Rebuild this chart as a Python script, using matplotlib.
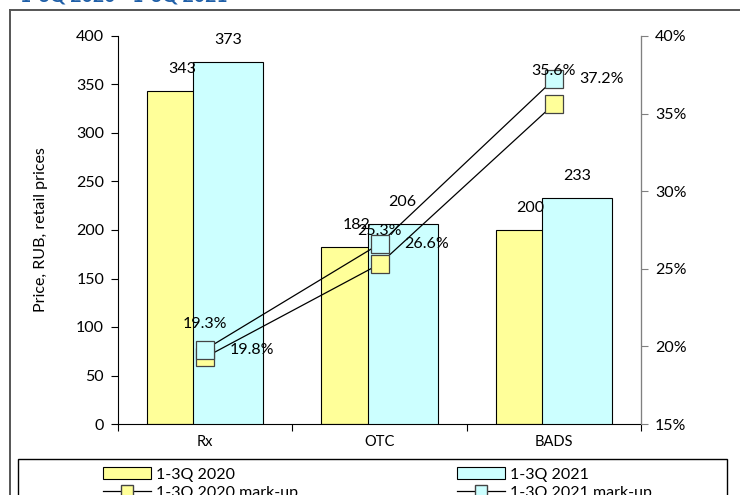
import matplotlib
matplotlib.use("Agg")
import matplotlib.pyplot as plt
import matplotlib.lines as mlines
import matplotlib.patches as mpatches
import numpy as np

plt.rcParams['font.family'] = ['Lato', 'DejaVu Sans']

categories = ["Rx", "OTC", "BADS"]
price_2020 = [343, 182, 200]
price_2021 = [373, 206, 233]
markup_2020 = [19.3, 25.3, 35.6]
markup_2021 = [19.8, 26.6, 37.2]
price_ticks = [0, 50, 100, 150, 200, 250, 300, 350, 400]
markup_ticks = [15, 20, 25, 30, 35, 40]

yellow = '#FFFF99'
cyan = '#CCFFFF'
fs = 11.5

W, H = 740, 495
fig = plt.figure(figsize=(W / 100, H / 100), dpi=100)
ax = fig.add_axes([118 / W, 1 - 424 / H, 523 / W, 388 / H])
ax2 = ax.twinx()

x = np.arange(len(categories))
bw = 0.4
off = 0.133
ax.bar(x - off, price_2020, bw, color=yellow, edgecolor='black', linewidth=0.8, zorder=2)
ax.bar(x + off, price_2021, bw, color=cyan, edgecolor='black', linewidth=0.8, zorder=3)

for xi, v in zip(x - off, price_2020):
    ax.annotate(str(v), (xi, v), xytext=(0, 16), textcoords='offset points',
                ha='center', va='center', fontsize=fs, zorder=5)
for xi, v in zip(x + off, price_2021):
    ax.annotate(str(v), (xi, v), xytext=(0, 16), textcoords='offset points',
                ha='center', va='center', fontsize=fs, zorder=5)

ax.set_xlim(-0.5, 2.5)
ax.set_ylim(0, 400)
ax.set_yticks(price_ticks)
ax.set_xticks([-0.5, 0.5, 1.5, 2.5])
ax.set_xticklabels([])
ax.set_xticks(x, minor=True)
ax.set_xticklabels(categories, minor=True)
ax.tick_params(axis='x', which='minor', length=0, labelsize=10.5, pad=8)
ax.tick_params(axis='x', which='major', length=5, direction='out')
ax.tick_params(axis='y', length=5, labelsize=fs, pad=5)
ax.spines['top'].set_visible(False)
ax.set_ylabel("Price, RUB, retail prices", fontsize=fs, labelpad=20)

# mark-up lines on secondary axis
ax2.plot(x, markup_2020, color='black', linewidth=0.9, marker='s', markersize=12.5,
         markerfacecolor=yellow, markeredgecolor='#444444', markeredgewidth=0.9, zorder=4)
ax2.plot(x, markup_2021, color='black', linewidth=0.9, marker='s', markersize=12.5,
         markerfacecolor=cyan, markeredgecolor='#444444', markeredgewidth=0.9, zorder=5)
for xi, v in zip(x, markup_2020):
    ax2.annotate(f"{v:.1f}%", (xi, v), xytext=(0, 24), textcoords='offset points',
                 ha='center', va='center', fontsize=fs, zorder=6)
for xi, v in zip(x, markup_2021):
    ax2.annotate(f"{v:.1f}%", (xi, v), xytext=(18, 0), textcoords='offset points',
                 ha='left', va='center', fontsize=fs, zorder=6)
ax2.set_ylim(15, 40)
ax2.set_yticks(markup_ticks)
ax2.set_yticklabels([f"{t}%" for t in markup_ticks])
ax2.tick_params(axis='y', length=5, labelsize=fs, pad=5, color='#808080')
ax2.spines['right'].set_color('#808080')
ax2.spines['top'].set_visible(False)
ax2.spines['left'].set_visible(False)
ax2.spines['bottom'].set_visible(False)

# outer chart frame
fig.add_artist(mlines.Line2D([10 / W, 10 / W], [0, 1 - 10 / H], color='#555555', linewidth=1.4))
fig.add_artist(mlines.Line2D([10 / W, 1], [1 - 10 / H, 1 - 10 / H], color='#555555', linewidth=1.4))

# cut-off title
fig.text(228 / W, 1 - 2 / H, "1-3Q 2020 - 1-3Q 2021", color='#1F5FA8', fontsize=14,
         fontweight='bold', ha='right', va='baseline')

# legend box
fig.add_artist(mpatches.Rectangle((18 / W, -0.05), 709 / W, 0.05 + (1 - 459 / H),
                                  transform=fig.transFigure, facecolor='white',
                                  edgecolor='black', linewidth=1.0))
h20 = mpatches.Patch(facecolor=yellow, edgecolor='black', linewidth=0.8)
h21 = mpatches.Patch(facecolor=cyan, edgecolor='black', linewidth=0.8)
l20 = mlines.Line2D([], [], color='black', linewidth=0.9, marker='s', markersize=9,
                    markerfacecolor=yellow, markeredgecolor='#444444')
l21 = mlines.Line2D([], [], color='black', linewidth=0.9, marker='s', markersize=9,
                    markerfacecolor=cyan, markeredgecolor='#444444')
leg_kw = dict(loc='upper left', frameon=False, fontsize=fs, handlelength=3.0,
              handleheight=0.8, handletextpad=0.3, labelspacing=0.2, borderpad=0.2)
fig.legend([h20, l20], ["1-3Q 2020", "1-3Q 2020 mark-up"],
           bbox_to_anchor=(92 / W, 1 - 456 / H), **leg_kw)
fig.legend([h21, l21], ["1-3Q 2021", "1-3Q 2021 mark-up"],
           bbox_to_anchor=(446 / W, 1 - 456 / H), **leg_kw)

fig.savefig("out.png", dpi=100)
